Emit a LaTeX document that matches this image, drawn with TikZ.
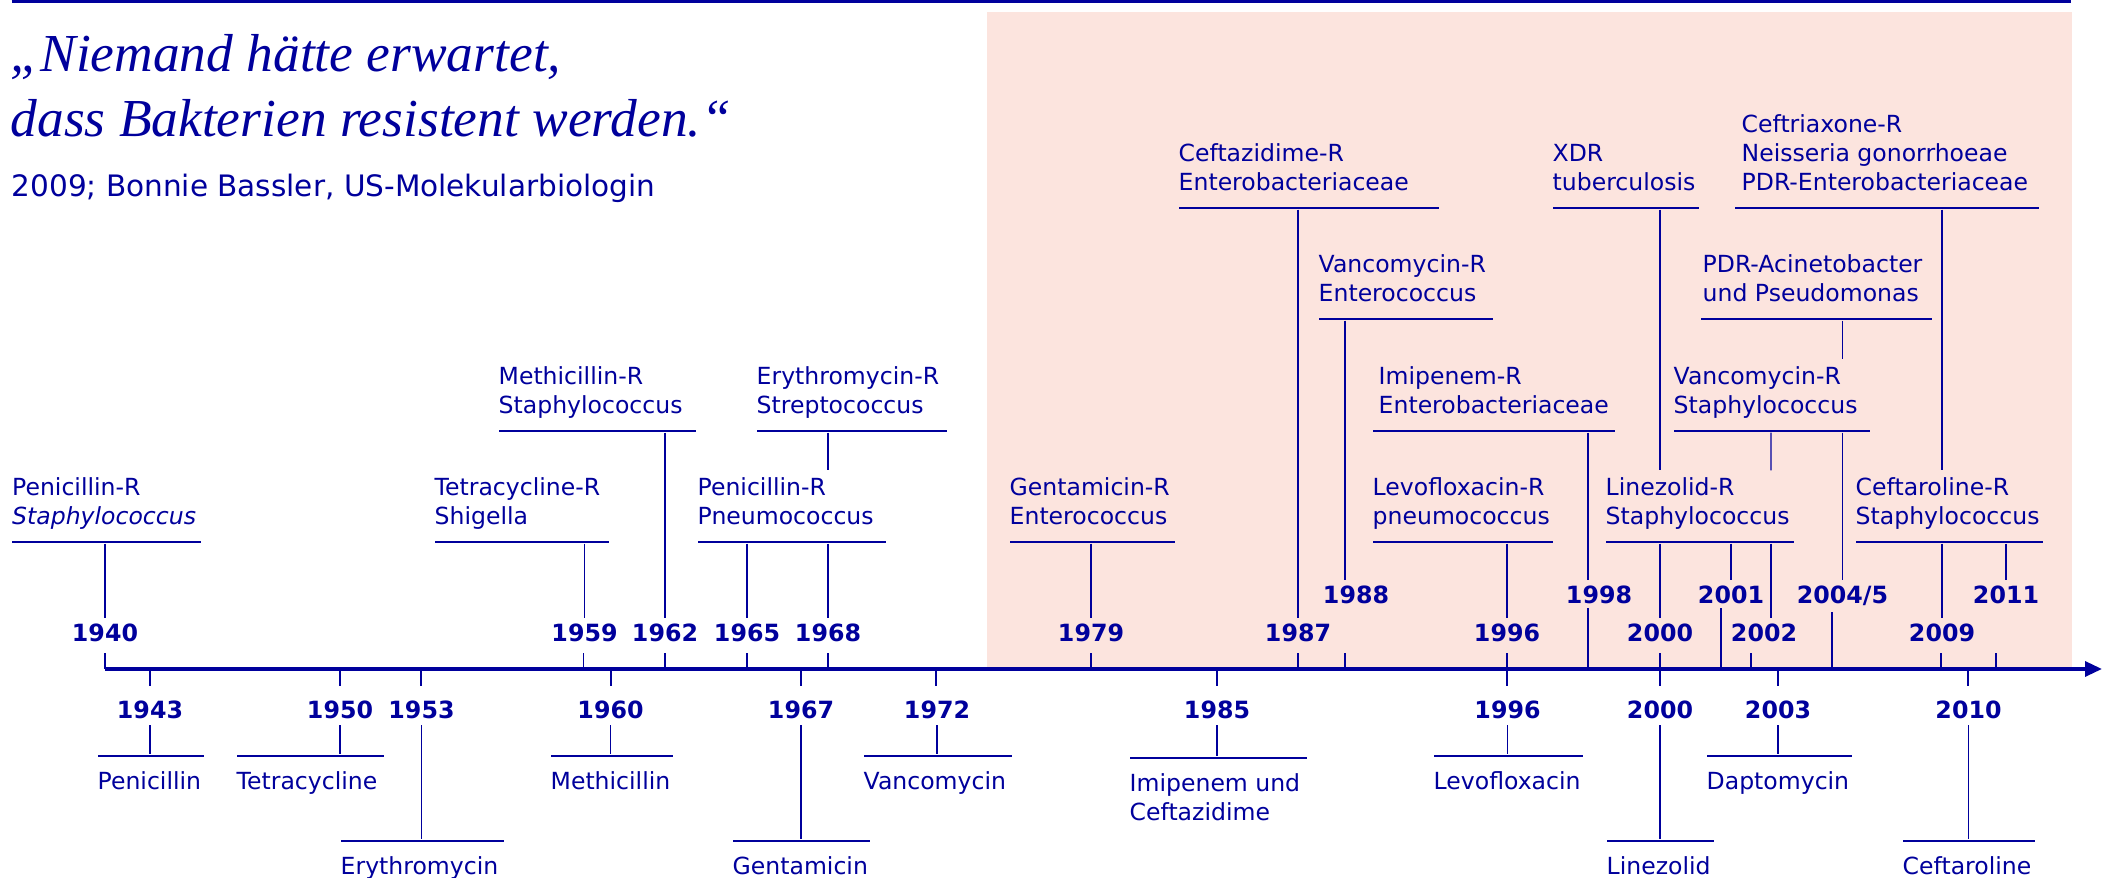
\documentclass[tikz,border=0pt]{standalone}
\usepackage{fontspec}
\setmainfont{DejaVu Sans}
\newfontfamily\quotefont{Liberation Serif}
\usetikzlibrary{arrows.meta}
\definecolor{darkblue}{RGB}{0,0,156}
\definecolor{lightpink}{RGB}{252,228,222}
\tikzset{
  quote/.style={anchor=base west, align=left, inner sep=0pt, font=\quotefont\itshape\fontsize{15.2}{18.5}\selectfont},
  source/.style={anchor=base west, inner sep=0pt, font=\fontsize{8.4}{10}\selectfont},
  lblup/.style={anchor=base west, align=left, inner sep=0pt, font=\fontsize{6.7}{8.25}\selectfont},
  lbldn/.style={anchor=north west, align=left, inner sep=0pt, font=\fontsize{6.7}{8.25}\selectfont},
  yr/.style={inner xsep=0pt, inner ysep=0.6mm, text height=1.75mm, text depth=0pt, font=\fontsize{6.75}{8}\selectfont\bfseries},
  bar/.style={anchor=west, fill=darkblue, inner sep=0pt, minimum height=0.18mm},
  link/.style={line width=0.42pt},
}
\begin{document}
\begin{tikzpicture}[color=darkblue]
        \useasboundingbox (0,-2.09) rectangle (21.03,6.69);
        \fill[lightpink] (9.87,0) rectangle (20.72,6.57);
        \draw[line width=0.6pt] (0.115,6.675) -- (20.71,6.675);
        \node[quote] (quote) at (0.10,5.32) {„Niemand hätte erwartet,\\dass Bakterien resistent werden.“};
        \node[source] (source) at (0.11,4.72) {2009; Bonnie Bassler, US-Molekularbiologin};
        % time axis
        \coordinate (start) at (1.05,0);
        \coordinate (end) at (21.02,0);
        \draw[line width=0.95pt,-{Triangle[length=1.7mm,width=1.5mm]}] (start) -- (end);
        \foreach \x/\y in {1.05/0.16,5.835/0.16,6.65/0.16,7.47/0.16,8.28/0.16,10.91/0.16,12.98/0.16,13.45/0.16,15.07/0.16,16.60/0.16,17.51/0.16,19.41/0.16,19.96/0.16,15.88/0.61,17.21/0.61,18.32/0.57}
          \draw[link] (\x,0) -- (\x,\y);
        \foreach \x in {1.50,3.40,4.21,6.11,8.01,9.36,12.17,15.07,16.60,17.78,19.68}
          \draw[link] (\x,0) -- (\x,-0.17);
        % resistance (above)
        \node[bar, minimum width=1.885cm] (bPenS) at (0.115,1.27) {};
        \node[lblup] (lPenS) at ([yshift=1.7mm]bPenS.west) {Penicillin-R\\\textit{Staphylococcus}};
        \node[bar, minimum width=1.74cm] (bTet) at (4.34,1.27) {};
        \node[lblup] (lTet) at ([yshift=1.7mm]bTet.west) {Tetracycline-R\\Shigella};
        \node[bar, minimum width=1.97cm] (bMet) at (4.98,2.38) {};
        \node[lblup] (lMet) at ([yshift=1.7mm]bMet.west) {Methicillin-R\\Staphylococcus};
        \node[bar, minimum width=1.88cm] (bPneu) at (6.97,1.27) {};
        \node[lblup] (lPneu) at ([yshift=1.7mm]bPneu.west) {Penicillin-R\\Pneumococcus};
        \node[bar, minimum width=1.90cm] (bEry) at (7.56,2.38) {};
        \node[lblup] (lEry) at ([yshift=1.7mm]bEry.west) {Erythromycin-R\\Streptococcus};
        \node[bar, minimum width=1.65cm] (bGenR) at (10.09,1.27) {};
        \node[lblup] (lGenR) at ([yshift=1.7mm]bGenR.west) {Gentamicin-R\\Enterococcus};
        \node[bar, minimum width=2.60cm] (bCaz) at (11.78,4.61) {};
        \node[lblup] (lCaz) at ([yshift=1.7mm]bCaz.west) {Ceftazidime-R\\Enterobacteriaceae};
        \node[bar, minimum width=1.74cm] (bVanE) at (13.18,3.50) {};
        \node[lblup] (lVanE) at ([yshift=1.7mm]bVanE.west) {Vancomycin-R\\Enterococcus};
        \node[bar, minimum width=2.42cm] (bImiR) at (13.72,2.38) {};
        \node[lblup] (lImiR) at ([shift={(0.06,0.17)}]bImiR.west) {Imipenem-R\\Enterobacteriaceae};
        \node[bar, minimum width=1.80cm] (bLevoR) at (13.72,1.27) {};
        \node[lblup] (lLevoR) at ([yshift=1.7mm]bLevoR.west) {Levofloxacin-R\\pneumococcus};
        \node[bar, minimum width=1.46cm] (bXdr) at (15.52,4.61) {};
        \node[lblup] (lXdr) at ([yshift=1.7mm]bXdr.west) {XDR\\tuberculosis};
        \node[bar, minimum width=1.88cm] (bLinR) at (16.05,1.27) {};
        \node[lblup] (lLinR) at ([yshift=1.7mm]bLinR.west) {Linezolid-R\\Staphylococcus};
        \node[bar, minimum width=3.04cm] (bCro) at (17.34,4.61) {};
        \node[lblup] (lCro) at ([shift={(0.07,0.17)}]bCro.west) {Ceftriaxone-R\\Neisseria gonorrhoeae\\PDR-Enterobacteriaceae};
        \node[bar, minimum width=2.31cm] (bPdrA) at (17.00,3.50) {};
        \node[lblup] (lPdrA) at ([shift={(0.02,0.17)}]bPdrA.west) {PDR-Acinetobacter\\und Pseudomonas};
        \node[bar, minimum width=1.96cm] (bVanS) at (16.73,2.38) {};
        \node[lblup] (lVanS) at ([yshift=1.7mm]bVanS.west) {Vancomycin-R\\Staphylococcus};
        \node[bar, minimum width=1.87cm] (bCptR) at (18.55,1.27) {};
        \node[lblup] (lCptR) at ([yshift=1.7mm]bCptR.west) {Ceftaroline-R\\Staphylococcus};
        % years (above)
        \node[yr] (y1940) at (1.05,0.36) {1940};
        \node[yr] (y1959) at (5.845,0.36) {1959};
        \node[yr] (y1962) at (6.65,0.36) {1962};
        \node[yr] (y1965) at (7.47,0.36) {1965};
        \node[yr] (y1968) at (8.28,0.36) {1968};
        \node[yr] (y1979) at (10.91,0.36) {1979};
        \node[yr] (y1987) at (12.98,0.36) {1987};
        \node[yr] (y1988) at (13.56,0.74) {1988};
        \node[yr] (y1996) at (15.07,0.36) {1996};
        \node[yr] (y1998) at (15.99,0.74) {1998};
        \node[yr] (y2000) at (16.60,0.36) {2000};
        \node[yr] (y2001) at (17.31,0.74) {2001};
        \node[yr] (y2002) at (17.64,0.36) {2002};
        \node[yr] (y2004) at (18.425,0.74) {2004/5};
        \node[yr] (y2009) at (19.42,0.36) {2009};
        \node[yr] (y2011) at (20.06,0.74) {2011};
        \draw[link] (bPenS.south -| y1940) -- (y1940.north);
        \draw[link] (bTet.south -| y1959) -- (y1959.north);
        \draw[link] (bMet.south -| y1962) -- (y1962.north);
        \draw[link] (bPneu.south -| y1965) -- (y1965.north);
        \draw[link] (bPneu.south -| y1968) -- (y1968.north);
        \draw[link] (bEry.south -| y1968) -- ([yshift=0.7mm]lPneu.north -| y1968);
        \draw[link] (bGenR.south -| y1979) -- (y1979.north);
        \draw[link] (bCaz.south -| y1987) -- (y1987.north);
        \draw[link] ([xshift=-1.1mm]bVanE.south -| y1988) -- ([xshift=-1.1mm]y1988.north);
        \draw[link] ([xshift=-1.1mm]bImiR.south -| y1998) -- ([xshift=-1.1mm]y1998.north);
        \draw[link] (bLevoR.south -| y1996) -- (y1996.north);
        \draw[link] (bXdr.south -| y2000) -- ([yshift=0.7mm]lLinR.north -| y2000);
        \draw[link] (bLinR.south -| y2000) -- (y2000.north);
        \draw[link] (bLinR.south -| y2001) -- (y2001.north);
        \draw[link] ([xshift=0.7mm]bLinR.south -| y2002) -- ([xshift=0.7mm]y2002.north);
        \draw[link] ([xshift=0.7mm]bVanS.south -| y2002) -- ([shift={(0.07,0.07)}]lLinR.north -| y2002);
        \draw[link] (bPdrA.south -| y2004) -- ([yshift=0.7mm]lVanS.north -| y2004);
        \draw[link] (bVanS.south -| y2004) -- (y2004.north);
        \draw[link] (bCro.south -| y2009) -- ([yshift=0.7mm]lCptR.north -| y2009);
        \draw[link] (bCptR.south -| y2009) -- (y2009.north);
        \draw[link] (bCptR.south -| y2011) -- (y2011.north);
        % antibiotics (below)
        \node[yr] (y1943) at (1.50,-0.41) {1943};
        \node[yr] (y1950) at (3.40,-0.41) {1950};
        \node[yr] (y1953) at (4.215,-0.41) {1953};
        \node[yr] (y1960) at (6.105,-0.41) {1960};
        \node[yr] (y1967) at (8.01,-0.41) {1967};
        \node[yr] (y1972) at (9.37,-0.41) {1972};
        \node[yr] (y1985) at (12.17,-0.41) {1985};
        \node[yr] (y1996b) at (15.075,-0.41) {1996};
        \node[yr] (y2000b) at (16.60,-0.41) {2000};
        \node[yr] (y2003) at (17.78,-0.41) {2003};
        \node[yr] (y2010) at (19.685,-0.41) {2010};
        \node[bar, minimum width=1.06cm] (bPen) at (0.97,-0.87) {};
        \node[lbldn] (lPen) at ([yshift=-1.5mm]bPen.west) {Penicillin};
        \node[bar, minimum width=1.47cm] (bTetra) at (2.36,-0.87) {};
        \node[lbldn] (lTetra) at ([yshift=-1.5mm]bTetra.west) {Tetracycline};
        \node[bar, minimum width=1.63cm] (bEryt) at (3.40,-1.72) {};
        \node[lbldn] (lEryt) at ([yshift=-1.5mm]bEryt.west) {Erythromycin};
        \node[bar, minimum width=1.22cm] (bMeth) at (5.50,-0.87) {};
        \node[lbldn] (lMeth) at ([yshift=-1.5mm]bMeth.west) {Methicillin};
        \node[bar, minimum width=1.37cm] (bGent) at (7.32,-1.72) {};
        \node[lbldn] (lGent) at ([yshift=-1.5mm]bGent.west) {Gentamicin};
        \node[bar, minimum width=1.48cm] (bVanc) at (8.63,-0.87) {};
        \node[lbldn] (lVanc) at ([yshift=-1.5mm]bVanc.west) {Vancomycin};
        \node[bar, minimum width=1.77cm] (bImiCaz) at (11.29,-0.89) {};
        \node[lbldn] (lImiCaz) at ([yshift=-1.5mm]bImiCaz.west) {Imipenem und\\Ceftazidime};
        \node[bar, minimum width=1.49cm] (bLevo) at (14.33,-0.87) {};
        \node[lbldn] (lLevo) at ([yshift=-1.5mm]bLevo.west) {Levofloxacin};
        \node[bar, minimum width=1.07cm] (bLine) at (16.06,-1.72) {};
        \node[lbldn] (lLine) at ([yshift=-1.5mm]bLine.west) {Linezolid};
        \node[bar, minimum width=1.45cm] (bDapt) at (17.06,-0.87) {};
        \node[lbldn] (lDapt) at ([yshift=-1.5mm]bDapt.west) {Daptomycin};
        \node[bar, minimum width=1.32cm] (bCeft) at (19.02,-1.72) {};
        \node[lbldn] (lCeft) at ([yshift=-1.5mm]bCeft.west) {Ceftaroline};
        \draw[link] (y1943.south) -- (bPen.north -| y1943);
        \draw[link] (y1950.south) -- (bTetra.north -| y1950);
        \draw[link] (y1953.south) -- (bEryt.north -| y1953);
        \draw[link] (y1960.south) -- (bMeth.north -| y1960);
        \draw[link] (y1967.south) -- (bGent.north -| y1967);
        \draw[link] (y1972.south) -- (bVanc.north -| y1972);
        \draw[link] (y1985.south) -- (bImiCaz.north -| y1985);
        \draw[link] (y1996b.south) -- (bLevo.north -| y1996b);
        \draw[link] (y2000b.south) -- (bLine.north -| y2000b);
        \draw[link] (y2003.south) -- (bDapt.north -| y2003);
        \draw[link] (y2010.south) -- (bCeft.north -| y2010);
\end{tikzpicture}
\end{document}
